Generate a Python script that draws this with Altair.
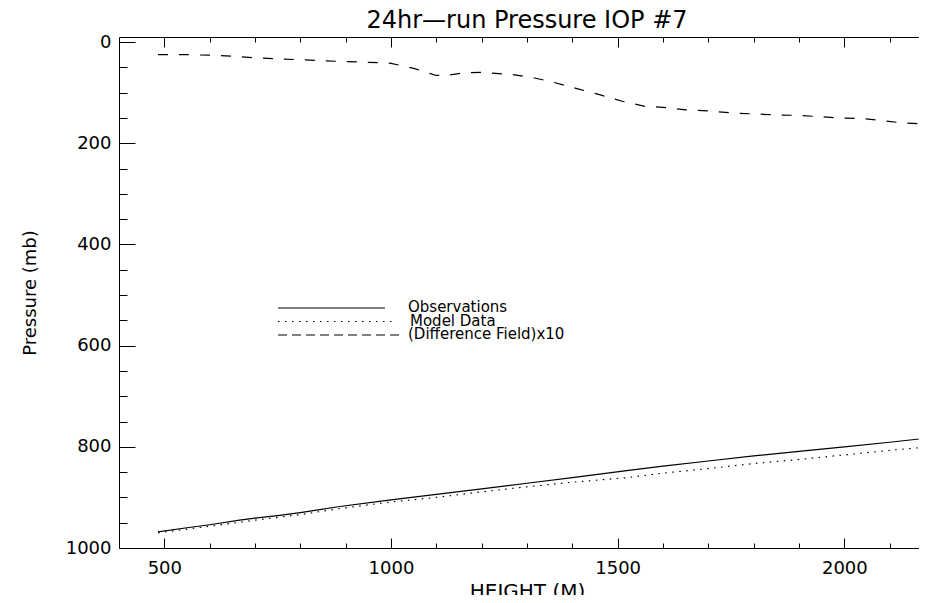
import altair as alt
import pandas as pd

# ---------------- data ----------------
obs_height = [486, 550, 600, 666, 700, 750, 800, 887, 1000, 1100, 1200, 1300, 1400, 1520,
              1600, 1700, 1800, 1900, 2000, 2100, 2200]
obs_pressure = [968, 960, 954, 945, 941, 936, 930, 918, 905, 894, 883, 872, 861, 847,
                838, 828, 818, 809, 800, 791, 781]

model_height = [486, 600, 700, 800, 887, 1000, 1100, 1200, 1300, 1400, 1520, 1600, 1700,
                1800, 1900, 2000, 2100, 2200]
model_pressure = [970, 957, 945, 934, 922, 909, 900, 889, 879, 870, 861, 852, 843,
                  833, 825, 816, 807, 799]

diff_height = [486, 550, 600, 650, 700, 750, 800, 850, 880, 950, 1000, 1050, 1100, 1130,
               1160, 1200, 1265, 1317, 1360, 1410, 1460, 1510, 1560, 1600, 1650, 1700,
               1750, 1800, 1850, 1900, 1990, 2040, 2080, 2130, 2200]
diff_pressure_x10 = [25, 25, 26, 28, 31, 33, 35, 37, 38, 40, 42, 52, 66, 65,
                     61, 60, 64, 71, 80, 92, 104, 117, 127, 129, 134, 136,
                     140, 142, 144, 145, 150, 151, 155, 160, 163]

legend_labels = ["Observations", "Model Data", "(Difference Field)x10"]
title_text = "24hr\u2014run Pressure IOP #7"
x_title = "HEIGHT (M)"
y_title = "Pressure (mb)"
x_domain = [400, 2200]
y_domain = [-10, 1000]
x_label_values = [500, 1000, 1500, 2000]
x_tick_values = list(range(500, 2200, 100))
y_label_values = [0, 200, 400, 600, 800, 1000]
y_tick_values = list(range(0, 1001, 50))

# ---------------- styling ----------------
W, H = 816, 511
FONT = "DejaVu Sans"
BLACK = "#000000"

xs = alt.Scale(domain=x_domain, nice=False, zero=False)
ys = alt.Scale(domain=y_domain, reverse=True, nice=False, zero=False)

common = dict(grid=False, domainColor=BLACK, tickColor=BLACK, labelColor=BLACK,
              titleColor=BLACK, labelFont=FONT, titleFont=FONT, domainWidth=1, tickWidth=1)

x_major = {"condition": {"test": "datum.value % 500 === 0", "value": 10}, "value": 5}
y_major = {"condition": {"test": "datum.value % 200 === 0", "value": 16}, "value": 8}

x_axis_main = alt.Axis(orient="bottom", values=x_label_values, ticks=False, format="d",
                       labelFontSize=18, labelPadding=11, title=x_title, titleFontSize=20,
                       titleFontWeight="normal", titlePadding=4, **common)
y_axis_main = alt.Axis(orient="left", values=y_label_values, ticks=False, format="d",
                       labelFontSize=18, labelPadding=8, title=y_title, titleFontSize=18,
                       titleFontWeight="normal", titlePadding=26, **common)
# inward ticks: axes moved to the opposite edge
x_axis_bottom_in = alt.Axis(orient="top", offset=-H, values=x_tick_values, labels=False,
                            domain=False, title=None, tickSize=x_major, **common)
y_axis_left_in = alt.Axis(orient="right", offset=-W, values=y_tick_values, labels=False,
                          domain=False, title=None, tickSize=y_major, **common)
x_axis_top_in = alt.Axis(orient="bottom", offset=-H, values=x_tick_values, labels=False,
                         domain=True, title=None, tickSize=x_major, **common)
y_axis_right_in = alt.Axis(orient="left", offset=-W, values=y_tick_values, labels=False,
                           domain=True, title=None, tickSize=y_major, **common)

obs_df = pd.DataFrame({"h": obs_height, "p": obs_pressure})
mod_df = pd.DataFrame({"h": model_height, "p": model_pressure})
dif_df = pd.DataFrame({"h": diff_height, "p": diff_pressure_x10})

obs = alt.Chart(obs_df).mark_line(color=BLACK, strokeWidth=1.2).encode(
    x=alt.X("h:Q", scale=xs, axis=x_axis_main),
    y=alt.Y("p:Q", scale=ys, axis=y_axis_main),
)
mod = alt.Chart(mod_df).mark_line(color=BLACK, strokeWidth=1.2, strokeDash=[1.5, 5.5]).encode(
    x=alt.X("h:Q", scale=xs, axis=x_axis_bottom_in),
    y=alt.Y("p:Q", scale=ys, axis=y_axis_left_in),
)
dif = alt.Chart(dif_df).mark_line(color=BLACK, strokeWidth=1.2, strokeDash=[10, 11]).encode(
    x=alt.X("h:Q", scale=xs, axis=x_axis_top_in),
    y=alt.Y("p:Q", scale=ys, axis=y_axis_right_in),
)

# title as a text mark centred over the plot
title_layer = alt.Chart(pd.DataFrame({"t": [title_text]})).mark_text(
    align="center", baseline="alphabetic", font=FONT, fontSize=24, color=BLACK
).encode(x=alt.value(W / 2), y=alt.value(-9), text="t:N")

# legend drawn inside the plot (pixel placement of the legend box only)
leg_dashes = [[1, 0], [1.5, 5.5], [9, 5]]
leg_x0 = 159
leg_x1 = [266, 273, 284]
leg_line_y = [271, 284.5, 298]
leg_text_x = [289, 291, 289]
leg_text_y = [275, 288.5, 302]
legend_layers = []
for i, lab in enumerate(legend_labels):
    ldf = pd.DataFrame({"label": [lab]})
    legend_layers.append(
        alt.Chart(ldf).mark_rule(color=BLACK, strokeWidth=1.2, strokeDash=leg_dashes[i]).encode(
            x=alt.value(leg_x0), x2=alt.value(leg_x1[i]), y=alt.value(leg_line_y[i])
        )
    )
    legend_layers.append(
        alt.Chart(ldf).mark_text(align="left", baseline="alphabetic", font=FONT, fontSize=15,
                                 color=BLACK).encode(
            x=alt.value(leg_text_x[i]), y=alt.value(leg_text_y[i]), text="label:N"
        )
    )

chart = alt.layer(obs, mod, dif, title_layer, *legend_layers).resolve_axis(
    x="independent", y="independent"
).properties(
    width=W, height=H,
    padding={"left": 111, "top": 29, "right": -16, "bottom": 47},
    autosize=alt.AutoSizeParams(type="none"),
).configure_view(stroke=None).configure(background="white")

chart.save("out.html", embed_options={"renderer": "svg", "actions": False})
